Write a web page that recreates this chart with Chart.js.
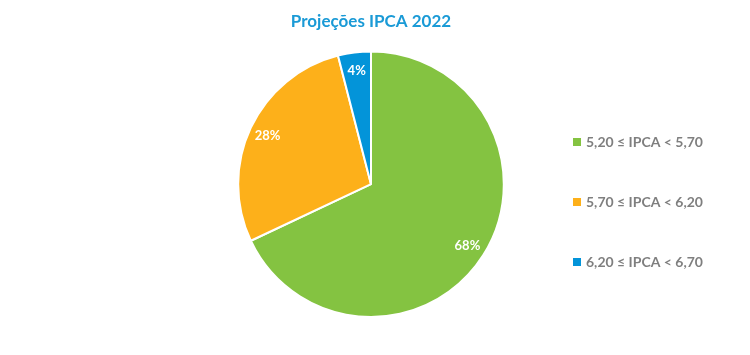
<!DOCTYPE html>
<html>
<head>
<meta charset="utf-8">
<script src="https://cdn.jsdelivr.net/npm/chart.js@4.4.6/dist/chart.umd.js"></script>
<style>
  html, body { margin: 0; padding: 0; background: #fff; }
  #wrap { width: 750px; height: 355px; position: relative; }
</style>
</head>
<body>
<div id="wrap"><canvas id="pie"></canvas></div>
<script>
const categories = ['5,20 ≤ IPCA < 5,70', '5,70 ≤ IPCA < 6,20', '6,20 ≤ IPCA < 6,70'];
const shares = [68, 28, 4];
const sliceColors = ['#84C341', '#FDB01A', '#0394D9'];

const FONT = 'Lato, "Open Sans", "DejaVu Sans", sans-serif';

// percentage labels inside the slices
const sliceLabels = {
  id: 'sliceLabels',
  afterDatasetsDraw(chart) {
    const { ctx } = chart;
    const meta = chart.getDatasetMeta(0);
    ctx.save();
    ctx.fillStyle = '#fff';
    ctx.font = `bold 13px ${FONT}`;
    ctx.textAlign = 'center';
    ctx.textBaseline = 'middle';
    meta.data.forEach((arc, i) => {
      const { x, y, startAngle, endAngle, outerRadius } = arc.getProps(['x', 'y', 'startAngle', 'endAngle', 'outerRadius'], true);
      const mid = (startAngle + endAngle) / 2;
      const r = outerRadius * 0.86;
      ctx.fillText(`${shares[i]}%`, x + Math.cos(mid) * r, y + Math.sin(mid) * r);
    });
    ctx.restore();
  }
};

// legend on the right, square markers
const sideLegend = {
  id: 'sideLegend',
  afterDraw(chart) {
    const { ctx } = chart;
    ctx.save();
    ctx.font = `bold 14px ${FONT}`;
    ctx.textBaseline = 'middle';
    categories.forEach((label, i) => {
      const y = 142 + i * 60;
      ctx.fillStyle = sliceColors[i];
      ctx.fillRect(573, y - 4, 8, 8);
      ctx.fillStyle = '#7F7F7F';
      ctx.fillText(label, 586, y);
    });
    ctx.restore();
  }
};

new Chart(document.getElementById('pie'), {
  type: 'pie',
  data: {
    labels: categories,
    datasets: [{
      data: shares,
      backgroundColor: sliceColors,
      borderColor: '#fff',
      borderWidth: 2
    }]
  },
  options: {
    responsive: true,
    maintainAspectRatio: false,
    animation: false,
    layout: { padding: { top: 0, bottom: 37, left: 237, right: 245 } },
    plugins: {
      legend: { display: false },
      tooltip: { enabled: false },
      title: {
        display: true,
        text: 'Projeções IPCA 2022',
        color: '#1A9AD6',
        font: { family: FONT, size: 17, weight: 'bold' },
        padding: { top: 11, bottom: 19 }
      }
    }
  },
  plugins: [sliceLabels, sideLegend]
});
</script>
</body>
</html>
